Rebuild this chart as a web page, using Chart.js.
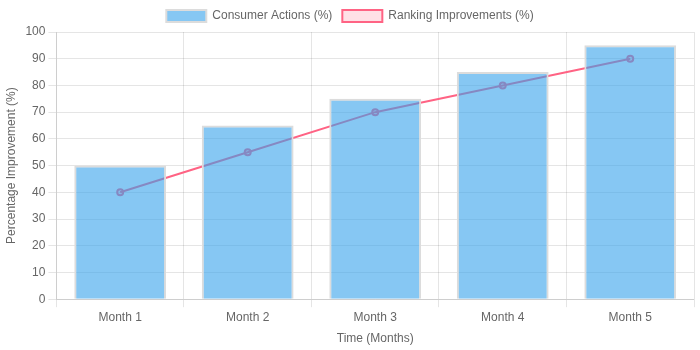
<!DOCTYPE html>
<html>
<head>
<meta charset="utf-8">
<script src="https://cdn.jsdelivr.net/npm/chart.js@4"></script>
<style>
  body { margin: 0; background: #fff; }
  .chart-container { width: 700px; height: 350px; }
</style>
</head>
<body>
<div class="chart-container"><canvas id="impactChart"></canvas></div>
<script>
const labels = ["Month 1", "Month 2", "Month 3", "Month 4", "Month 5"];
const consumerActions = [50, 65, 75, 85, 95];
const rankingImprovements = [40, 55, 70, 80, 90];

new Chart(document.getElementById("impactChart"), {
  type: 'bar',
  data: {
    labels,
    datasets: [
      {
        label: 'Consumer Actions (%)',
        data: consumerActions,
        backgroundColor: 'rgba(54, 162, 235, 0.6)',
        borderColor: 'rgba(220, 220, 220, 1)',
        borderWidth: 2,
      },
      {
        type: 'line',
        label: 'Ranking Improvements (%)',
        data: rankingImprovements,
        backgroundColor: 'rgba(255, 99, 132, 0.2)',
        borderColor: 'rgba(255, 99, 132, 1)',
        borderWidth: 2,
        fill: false,
      },
    ],
  },
  options: {
    responsive: true,
    maintainAspectRatio: false,
    animation: false,
    scales: {
      x: {
        title: { display: true, text: 'Time (Months)' },
      },
      y: {
        beginAtZero: true,
        max: 100,
        title: { display: true, text: 'Percentage Improvement (%)' },
      },
    },
  },
});
</script>
</body>
</html>
